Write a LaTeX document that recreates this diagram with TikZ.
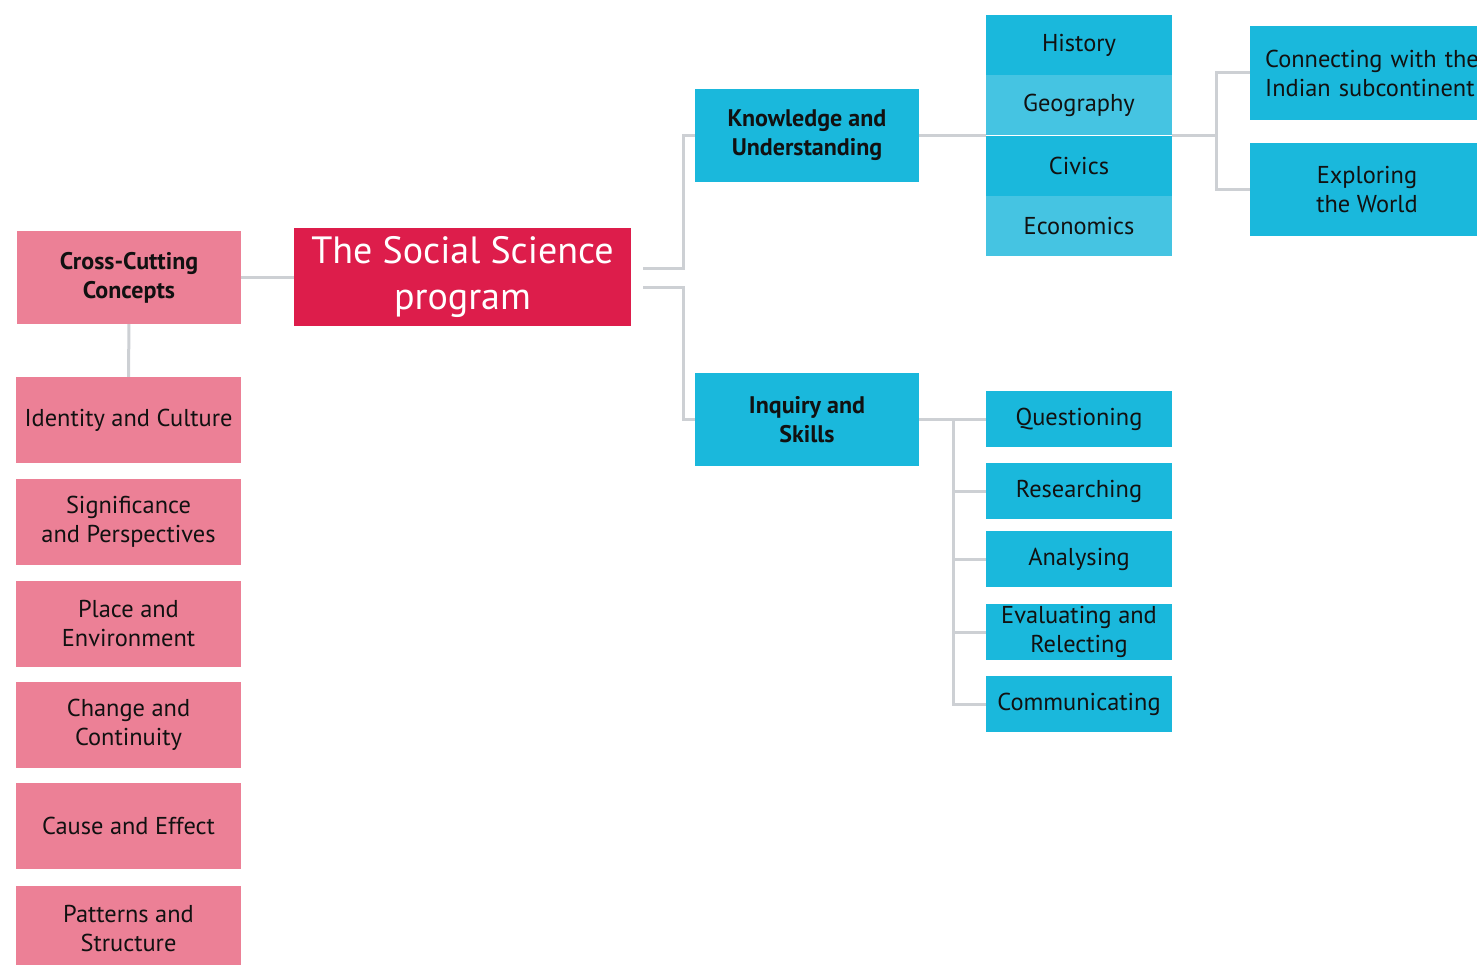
\documentclass[tikz,border=0pt]{standalone}
\usepackage{fontspec}
\setmainfont{PT Sans}
\usepackage{tikz}
\usetikzlibrary{calc,positioning}

\definecolor{crimson}{HTML}{DD1D4B}
\definecolor{rose}{HTML}{EC8096}
\definecolor{sky}{HTML}{1AB8DC}
\definecolor{skylight}{HTML}{45C4E2}
\definecolor{wire}{HTML}{CDD0D4}
\definecolor{ink}{HTML}{111111}

\begin{document}
\begin{tikzpicture}
  [
    x=1pt,y=-1pt,
    box/.style={rectangle,inner sep=0pt,align=center,text=ink,
      font=\fontsize{24.4}{29}\selectfont},
    concept/.style={box,fill=rose,minimum width=225pt,minimum height=86pt},
    strand/.style={box,fill=sky,minimum width=224pt,minimum height=93pt,
      font=\fontsize{24}{29}\selectfont\bfseries},
    subject/.style={box,fill=sky,minimum width=186pt,minimum height=60pt},
    skill/.style={box,fill=sky,minimum width=186pt,minimum height=56pt},
    link/.style={draw=wire,line width=3pt}
  ]
  \useasboundingbox (0,0) rectangle (1477,965);

  % program and cross-cutting concepts
  \node[box,fill=crimson,text=white,minimum width=337pt,minimum height=98pt,
    font=\fontsize{38}{46}\selectfont] (program) at (462.5,277)
    {The Social Science\\program};
  \node[concept,minimum width=224pt,minimum height=93pt,
    font=\fontsize{24}{29}\selectfont\bfseries] (cross cutting) at (129,277.5)
    {Cross-Cutting\\Concepts};
  \node[concept] (identity) at (128.5,420) {Identity and Culture};
  \node[concept] (significance) at (128.5,522) {Significance\\and Perspectives};
  \node[concept] (place) at (128.5,624) {Place and\\Environment};
  \node[concept] (change) at (128.5,725) {Change and\\Continuity};
  \node[concept] (cause) at (128.5,826) {Cause and Effect};
  \node[concept] (patterns) at (128.5,929) {Patterns and\\Structure};

  % strands
  \node[strand] (knowledge) at (807,135.5) {Knowledge and\\Understanding};
  \node[strand] (inquiry) at (807,419.5) {Inquiry and\\Skills};

  \node[subject] (history) at (1079,45) {History};
  \node[subject,fill=skylight] (geography) [below = 0pt of history] {Geography};
  \node[subject] (civics) [below = 0pt of geography] {Civics};
  \node[subject,fill=skylight] (economics) [below = 0pt of civics] {Economics};

  \node[box,fill=sky,inner xsep=15pt,minimum height=94pt,anchor=west,
    align=left,text width=215pt] (connecting) at (1250,73)
    {Connecting with the\\Indian subcontinent};
  \node[box,fill=sky,minimum width=234pt,minimum height=93pt] (exploring)
    at (1367,189.5) {Exploring\\the World};

  \node[skill] (questioning) at (1079,419) {Questioning};
  \node[skill] (researching) at (1079,491) {Researching};
  \node[skill] (analysing) at (1079,559) {Analysing};
  \node[skill] (evaluating) at (1079,632) {Evaluating and\\Relecting};
  \node[skill] (communicating) at (1079,704) {Communicating};

  % connectors
  \draw[link] (cross cutting.east) -- (cross cutting.east -| program.west);
  \draw[link] (cross cutting) -- (identity);
  \draw[link] ([shift={(12,-8)}]program.east) -- ++(40,0) |- (knowledge.west);
  \draw[link] ([shift={(12,11)}]program.east) -- ++(40,0) |- (inquiry.west);
  \draw[link] (knowledge.east) -- (knowledge.east -| history.west);
  \draw[link] (civics.north east) -- ++(44,0) coordinate (fork);
  \draw[link] (connecting.west) -| (fork) |- (exploring.west);
  \draw[link] (inquiry.east) -- (inquiry.east -| questioning.west);
  \coordinate (spine) at ($(inquiry.east)+(34,0)$);
  \draw[link] (spine) |- (communicating.west);
  \foreach \s in {researching,analysing,evaluating}
    \draw[link] (spine |- \s) -- (\s.west);
\end{tikzpicture}
\end{document}
